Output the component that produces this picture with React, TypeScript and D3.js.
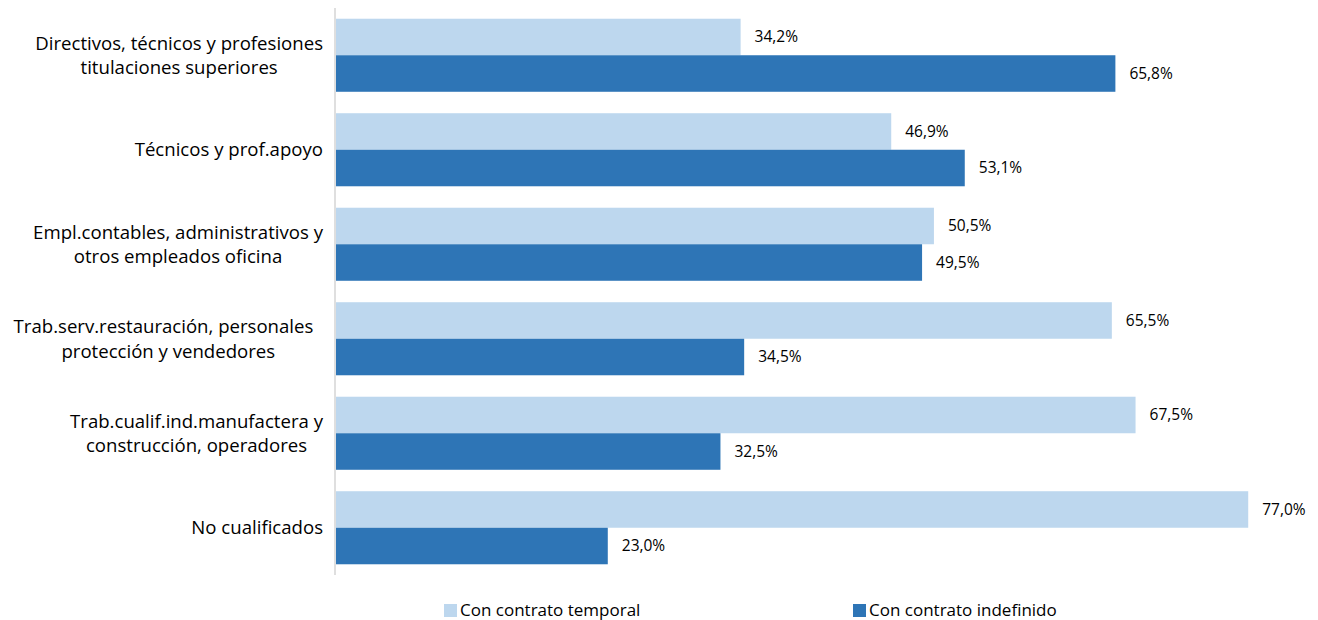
import React, { useEffect, useRef } from "react";
import * as d3 from "d3";

const categories: string[][] = [
  ["Directivos, técnicos y profesiones", "titulaciones superiores"],
  ["Técnicos y prof.apoyo"],
  ["Empl.contables, administrativos y", "otros empleados oficina"],
  ["Trab.serv.restauración, personales\u00a0\u00a0", "protección y vendedores"],
  ["Trab.cualif.ind.manufactera y", "construcción, operadores"],
  ["No cualificados"],
];
const seriesNames = ["Con contrato temporal", "Con contrato indefinido"];
const temporal = [34.2, 46.9, 50.5, 65.5, 67.5, 77.0];
const indefinido = [65.8, 53.1, 49.5, 34.5, 32.5, 23.0];
const colors = ["#BDD7EE", "#2E75B6"];

const W = 1318;
const H = 620;
const FONT = "'Open Sans', sans-serif";

export default function App() {
  const ref = useRef<SVGSVGElement>(null);
  useEffect(() => {
    const svg = d3.select(ref.current);
    svg.selectAll("*").remove();
    const x0 = 335;
    const top = 8;
    const bottom = 575;
    const x = d3.scaleLinear().domain([0, 100]).range([x0, x0 + 1186]);
    const idx = categories.map((_, i) => i);
    const y = d3.scaleBand<number>().domain(idx).range([top, bottom]).paddingInner(0.227).paddingOuter(0.1135);
    const sub = d3.scaleBand<number>().domain([0, 1]).range([0, y.bandwidth()]);
    const series = [temporal, indefinido];

    series.forEach((vals, s) => {
      svg.append("g").selectAll("rect").data(vals).join("rect")
        .attr("x", x(0) + 1)
        .attr("y", (_, i) => (y(i) as number) + (sub(s) as number))
        .attr("width", (d) => x(d) - x(0) - 1)
        .attr("height", sub.bandwidth())
        .attr("fill", colors[s]);
      svg.append("g").selectAll("text").data(vals).join("text")
        .attr("x", (d) => x(d) + 14)
        .attr("y", (_, i) => (y(i) as number) + (sub(s) as number) + sub.bandwidth() / 2)
        .attr("dy", "0.35em")
        .attr("font-family", FONT)
        .attr("font-size", 15.5)
        .attr("fill", "#000")
        .text((d) => d.toFixed(1).replace(".", ",") + "%");
    });

    svg.append("line")
      .attr("x1", x0).attr("x2", x0).attr("y1", top).attr("y2", bottom)
      .attr("stroke", "#BFBFBF").attr("stroke-width", 1);

    const labelRight = 323;
    const lineH = 24.5;
    categories.forEach((lines, i) => {
      const cy = (y(i) as number) + y.bandwidth() / 2;
      const g = svg.append("g");
      const texts = lines.map((ln, k) =>
        g.append("text")
          .attr("x", labelRight)
          .attr("y", cy + (k - (lines.length - 1) / 2) * lineH)
          .attr("dy", "0.35em")
          .attr("text-anchor", "middle")
          .attr("font-family", FONT)
          .attr("font-size", 18.6)
          .attr("fill", "#000")
          .text(ln)
      );
      const widths = texts.map((t) => (t.node() as SVGTextElement).getComputedTextLength());
      const maxW = Math.max(...widths);
      texts.forEach((t) => t.attr("x", labelRight - maxW / 2));
    });

    const legendX = [444, 853];
    seriesNames.forEach((name, s) => {
      svg.append("rect")
        .attr("x", legendX[s]).attr("y", 604).attr("width", 13).attr("height", 13)
        .attr("fill", colors[s]);
      svg.append("text")
        .attr("x", legendX[s] + 16).attr("y", 610.5).attr("dy", "0.35em")
        .attr("font-family", FONT).attr("font-size", 17).attr("fill", "#000")
        .text(name);
    });
  }, []);
  return (
    <svg ref={ref} width={W} height={H} style={{ position: "absolute", left: 0, top: 0, background: "#fff" }} />
  );
}
